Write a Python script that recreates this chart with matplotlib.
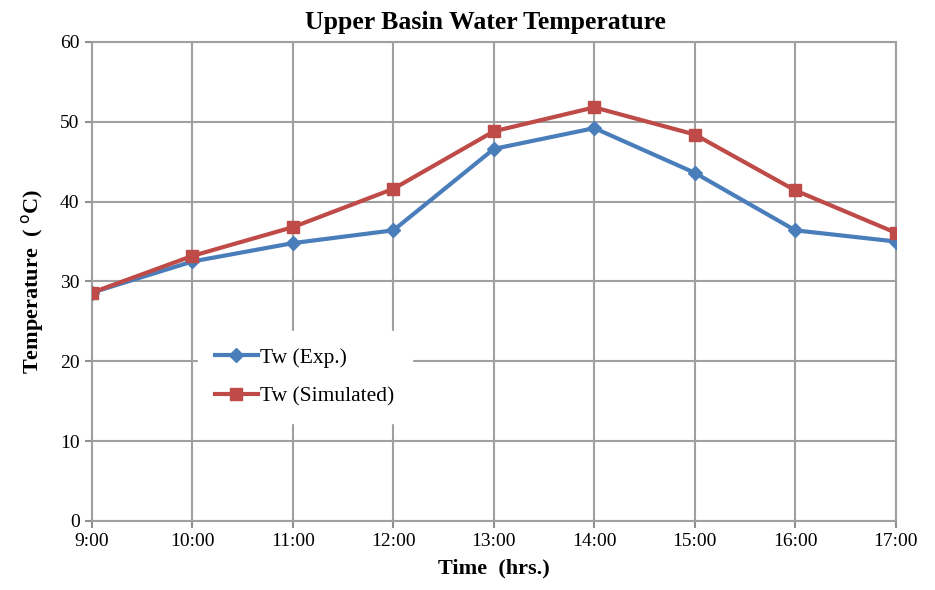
import matplotlib.pyplot as plt

# Data
times = ['9:00', '10:00', '11:00', '12:00', '13:00', '14:00', '15:00', '16:00', '17:00']
tw_exp = [28.6, 32.5, 34.8, 36.4, 46.6, 49.2, 43.6, 36.4, 35.0]
tw_sim = [28.6, 33.2, 36.8, 41.6, 48.8, 51.8, 48.4, 41.4, 36.1]

plt.rcParams['font.family'] = ['Liberation Serif', 'DejaVu Serif']

fig = plt.figure(figsize=(9.35, 5.9), dpi=100)
ax = fig.add_axes([0.0984, 0.117, 0.8596, 0.812])

x = range(len(times))
ax.plot(x, tw_exp, color='#4a7ebb', lw=3, marker='D', ms=7, label='Tw (Exp.)', zorder=3)
ax.plot(x, tw_sim, color='#be4b48', lw=3, marker='s', ms=9, label='Tw (Simulated)', zorder=3)

ax.set_xlim(0, len(times) - 1)
ax.set_ylim(0, 60)
ax.set_xticks(list(x))
ax.set_xticklabels(times)
ax.set_yticks(range(0, 61, 10))
ax.tick_params(labelsize=14, length=5, color='#909090', width=1.5, pad=4)

ax.grid(True, color='#a0a0a0', lw=1.5)
ax.set_axisbelow(True)
for s in ax.spines.values():
    s.set_color('#a0a0a0')
    s.set_linewidth(1.5)

ax.set_title('Upper Basin Water Temperature', fontsize=18.5, fontweight='bold', pad=9, x=0.49)
ax.set_xlabel('Time  (hrs.)', fontsize=16, fontweight='bold', labelpad=6)
ax.set_ylabel('Temperature  ( $^{\\mathrm{o}}$C)', fontsize=16, fontweight='bold', labelpad=10)

leg = ax.legend(loc='upper left', bbox_to_anchor=(0.118, 0.42), fontsize=15.5,
                frameon=True, fancybox=False, handlelength=2.0, handletextpad=0.1,
                borderpad=0.8, labelspacing=0.85)
leg.get_frame().set_edgecolor('white')
leg.get_frame().set_facecolor('white')
leg.get_frame().set_alpha(1)

fig.savefig('out.png', dpi=100)
